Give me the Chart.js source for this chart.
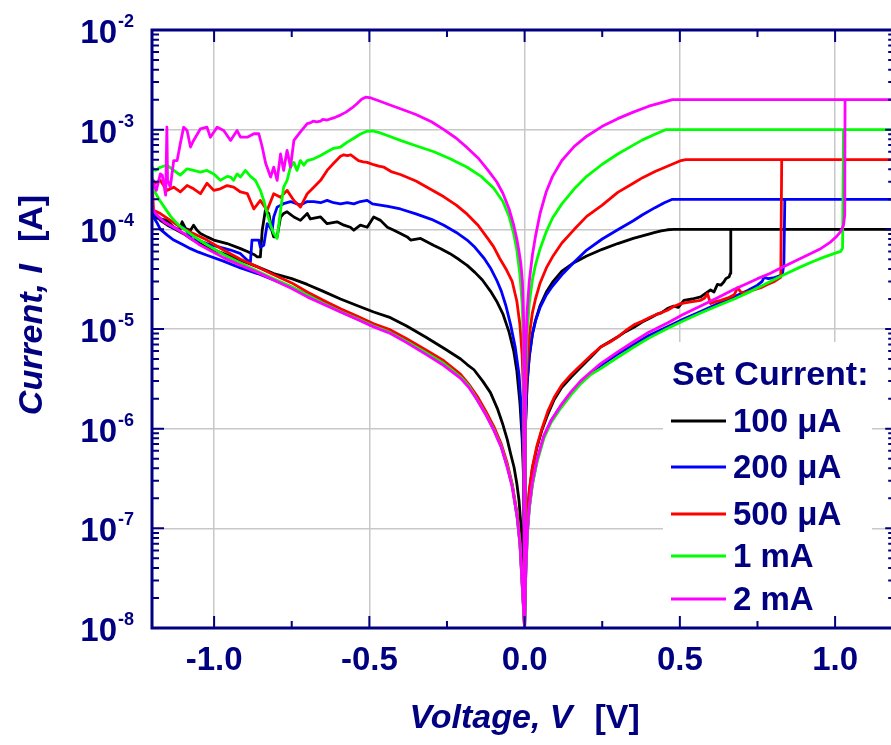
<!DOCTYPE html>
<html><head><meta charset="utf-8">
<script src="https://cdn.jsdelivr.net/npm/chart.js@4.4.1/dist/chart.umd.min.js"></script>
<style>html,body{margin:0;padding:0;background:#fff;overflow:hidden}canvas{display:block}</style>
</head><body>
<canvas id="c" width="891" height="745"></canvas>
<script>
// ---------- labels / ticks ----------
const seriesLabels = ['100 \u03BCA', '200 \u03BCA', '500 \u03BCA', '1 mA', '2 mA'];
const seriesColors = ['#000000', '#0000ff', '#ff0000', '#00ff00', '#ff00ff'];
const legendTitle = 'Set Current:';
const xTitleParts = ['Voltage, V', '[V]'];
const yTitleParts = ['Current, I', '[A]'];
const xMajorTicks = [-1.0, -0.5, 0.0, 0.5, 1.0];
const xMinorTicks = [-0.75, -0.25, 0.25, 0.75];
const xTickLabels = ['-1.0', '-0.5', '0.0', '0.5', '1.0'];
const yDecades = [1e-8, 1e-7, 1e-6, 1e-5, 1e-4, 1e-3, 1e-2];
const yExponents = ['-8', '-7', '-6', '-5', '-4', '-3', '-2'];

// ---------- series: [voltage V, current A], in sweep order ----------
const s100 = [
 [0,1e-8],[0.003,5e-8],[0.008,1.2e-7],[0.015,2.3e-7],[0.025,4e-7],[0.04,6.5e-7],[0.055,9.5e-7],[0.075,1.4e-6],[0.095,1.95e-6],[0.12,2.6e-6],[0.15,3.3e-6],[0.18,4.1e-6],[0.213,5.2e-6],[0.245,6.6e-6],[0.275,7.5e-6],[0.299,8.3e-6],[0.325,9.4e-6],[0.352,1.04e-5],[0.38,1.18e-5],[0.406,1.3e-5],[0.425,1.4e-5],[0.44,1.45e-5],[0.46,1.6e-5],[0.48,1.7e-5],[0.495,1.65e-5],[0.513,1.94e-5],[0.54,2.0e-5],[0.567,2.1e-5],[0.585,2.3e-5],[0.599,2.46e-5],[0.61,2.35e-5],[0.621,2.8e-5],[0.632,2.75e-5],[0.642,2.98e-5],[0.648,3.2e-5],[0.659,3.35e-5],[0.662,3.6e-5],[0.664,1e-4],[1.2,1e-4],
 [0.5,1e-4],[0.48,1e-4],[0.46,9.9e-5],[0.44,9.65e-5],[0.42,9.3e-5],[0.40,8.95e-5],[0.35,8.1e-5],[0.30,7.2e-5],[0.25,6.3e-5],[0.20,5.4e-5],[0.16,4.65e-5],[0.12,3.8e-5],[0.09,2.95e-5],[0.07,2.35e-5],[0.05,1.72e-5],[0.035,1.22e-5],[0.025,8.8e-6],[0.015,5.2e-6],[0.008,2.8e-6],[0.003,1.1e-6],[0,1e-8],
 [-0.003,3e-7],[-0.008,8e-7],[-0.015,1.8e-6],[-0.025,3.8e-6],[-0.035,6e-6],[-0.05,9.3e-6],[-0.07,1.42e-5],[-0.09,1.9e-5],[-0.11,2.4e-5],[-0.136,3.1e-5],[-0.16,3.7e-5],[-0.185,4.35e-5],[-0.21,4.95e-5],[-0.24,5.7e-5],[-0.27,6.4e-5],[-0.292,6.9e-5],
 [-0.335,8.1e-5],[-0.367,7.8e-5],[-0.378,8.4e-5],[-0.4,9.1e-5],[-0.421,9.8e-5],[-0.442,1.05e-4],[-0.464,1.23e-4],[-0.486,1.33e-4],[-0.507,1.05e-4],[-0.529,1.1e-4],[-0.55,9.8e-5],[-0.561,1.05e-4],[-0.582,1.1e-4],[-0.604,1.19e-4],[-0.636,1.14e-4],[-0.657,1.33e-4],[-0.69,1.27e-4],[-0.7,1.44e-4],[-0.722,1.23e-4],[-0.743,1.33e-4],[-0.765,1.5e-4],[-0.776,1.44e-4],[-0.786,1.33e-4],[-0.797,8.4e-5],[-0.808,8.4e-5],[-0.813,9.5e-5],[-0.824,1.44e-4],[-0.835,1.55e-4],[-0.845,9.8e-5],[-0.851,5.3e-5],[-0.861,5.3e-5],[-0.872,5.6e-5],[-0.893,6.0e-5],[-0.915,6.4e-5],[-0.958,7.2e-5],[-1.001,7.8e-5],[-1.023,8.4e-5],[-1.044,9.1e-5],[-1.055,9.8e-5],[-1.066,1.1e-4],[-1.076,9.8e-5],[-1.092,1.02e-4],[-1.103,1.19e-4],[-1.111,9.8e-5],[-1.13,1.05e-4],[-1.152,1.23e-4],[-1.173,1.27e-4],[-1.2,1.33e-4],
 [-1.2,1.5e-4],[-1.185,1.35e-4],[-1.173,1.23e-4],[-1.15,1.1e-4],[-1.13,1.02e-4],[-1.1,9.1e-5],[-1.076,8.1e-5],[-1.05,7.3e-5],[-1.023,6.6e-5],[-0.97,5.7e-5],[-0.915,4.9e-5],[-0.86,4.2e-5],[-0.808,3.6e-5],[-0.75,3.2e-5],[-0.7,2.8e-5],[-0.65,2.4e-5],[-0.593,2.0e-5],[-0.54,1.72e-5],[-0.486,1.48e-5],[-0.432,1.3e-5],[-0.38,1.07e-5],[-0.319,8.3e-6],[-0.26,6.4e-6],[-0.206,5.0e-6],[-0.185,4.4e-6],[-0.163,3.9e-6],[-0.135,3.0e-6],[-0.11,2.3e-6],[-0.088,1.6e-6],[-0.07,1.1e-6],[-0.056,7.8e-7],[-0.045,5.6e-7],[-0.034,4.1e-7],[-0.025,2.8e-7],[-0.018,1.9e-7],[-0.012,1.1e-7],[-0.007,6.1e-8],[-0.003,2.5e-8],[0,1e-8]
];

const s200 = [
 [0,1e-8],[0.003,3e-8],[0.0087,8.9e-8],[0.015,1.6e-7],[0.025,2.8e-7],[0.04,4.8e-7],[0.062,8.3e-7],[0.085,1.2e-6],[0.116,1.68e-6],[0.15,2.3e-6],[0.18,2.9e-6],[0.213,3.6e-6],[0.245,4.3e-6],[0.30,5.6e-6],[0.352,7e-6],[0.40,8.6e-6],[0.46,1.05e-5],[0.51,1.25e-5],[0.567,1.5e-5],[0.62,1.78e-5],[0.675,2.1e-5],[0.72,2.45e-5],[0.75,2.75e-5],[0.765,3.0e-5],[0.771,3.3e-5],[0.785,3.2e-5],[0.80,3.25e-5],[0.814,3.35e-5],[0.83,3.5e-5],[0.835,4.5e-5],[0.838,2e-4],[1.2,2e-4],
 [0.476,2e-4],[0.45,1.85e-4],[0.42,1.65e-4],[0.38,1.4e-4],[0.35,1.22e-4],[0.30,9.9e-5],[0.25,8.0e-5],[0.20,6.2e-5],[0.16,4.7e-5],[0.12,3.5e-5],[0.09,2.7e-5],[0.07,2.2e-5],[0.05,1.65e-5],[0.035,1.2e-5],[0.025,8.9e-6],[0.015,5.4e-6],[0.008,2.9e-6],[0.003,1.1e-6],[0,1e-8],
 [-0.003,4e-7],[-0.008,1.2e-6],[-0.018,3.5e-6],[-0.03,6.5e-6],[-0.045,1.1e-5],[-0.06,1.7e-5],[-0.075,2.4e-5],[-0.09,3.1e-5],[-0.11,4.1e-5],[-0.13,5.1e-5],[-0.16,6.6e-5],[-0.185,7.8e-5],[-0.22,9.3e-5],[-0.26,1.1e-4],[-0.30,1.26e-4],[-0.35,1.43e-4],[-0.40,1.6e-4],[-0.44,1.7e-4],[-0.47,1.76e-4],[-0.49,1.8e-4],[-0.507,1.95e-4],
 [-0.529,1.9e-4],[-0.55,1.8e-4],[-0.571,1.85e-4],[-0.593,1.8e-4],[-0.615,1.85e-4],[-0.636,1.95e-4],[-0.657,1.85e-4],[-0.679,1.9e-4],[-0.7,1.9e-4],[-0.722,1.75e-4],[-0.754,1.9e-4],[-0.776,1.81e-4],[-0.797,1.67e-4],[-0.808,1.33e-4],[-0.813,9.8e-5],[-0.829,1.14e-4],[-0.84,6.9e-5],[-0.851,6.6e-5],[-0.856,7.8e-5],[-0.878,7.8e-5],[-0.883,4.7e-5],[-0.893,4.9e-5],[-0.915,5.7e-5],[-0.947,6.2e-5],[-0.98,6.6e-5],[-1.023,7.2e-5],[-1.055,7.8e-5],[-1.066,8.7e-5],[-1.076,8.4e-5],[-1.098,1.05e-4],[-1.114,1.0e-4],[-1.13,1.02e-4],[-1.152,1.14e-4],[-1.173,1.27e-4],[-1.2,1.5e-4],
 [-1.2,1.4e-4],[-1.185,1.18e-4],[-1.173,1.0e-4],[-1.15,8.7e-5],[-1.13,7.8e-5],[-1.1,7.0e-5],[-1.076,6.4e-5],[-1.05,5.9e-5],[-1.023,5.5e-5],[-0.97,4.8e-5],[-0.915,4.1e-5],[-0.86,3.6e-5],[-0.808,3.1e-5],[-0.75,2.6e-5],[-0.7,2.2e-5],[-0.65,1.85e-5],[-0.593,1.5e-5],[-0.54,1.27e-5],[-0.486,1.08e-5],[-0.432,9.3e-6],[-0.38,7.6e-6],[-0.319,5.9e-6],[-0.26,4.5e-6],[-0.206,3.3e-6],[-0.18,2.7e-6],[-0.152,1.95e-6],[-0.125,1.4e-6],[-0.099,9.8e-7],[-0.075,6.6e-7],[-0.056,4.2e-7],[-0.04,2.7e-7],[-0.024,1.3e-7],[-0.015,7e-8],[-0.008,2.8e-8],[0,1e-8]
];

const s500 = [
 [0,1e-8],[0.003,5e-8],[0.008,1.25e-7],[0.015,2.4e-7],[0.025,4.1e-7],[0.04,6.8e-7],[0.055,9.8e-7],[0.075,1.5e-6],[0.095,2.05e-6],[0.12,2.75e-6],[0.15,3.5e-6],[0.18,4.3e-6],[0.213,5.4e-6],[0.245,6.6e-6],[0.275,7.4e-6],[0.299,8.3e-6],[0.325,9.6e-6],[0.352,1.1e-5],[0.38,1.2e-5],[0.406,1.32e-5],[0.43,1.42e-5],[0.46,1.54e-5],[0.48,1.68e-5],[0.503,1.8e-5],[0.535,1.87e-5],[0.567,1.94e-5],[0.58,2.05e-5],[0.589,2.26e-5],[0.599,1.8e-5],[0.615,1.88e-5],[0.632,1.94e-5],[0.655,2.05e-5],[0.675,2.2e-5],[0.686,2.6e-5],[0.696,2.35e-5],[0.707,2.3e-5],[0.735,2.45e-5],[0.761,2.6e-5],[0.782,2.8e-5],[0.805,3.0e-5],[0.825,3.3e-5],[0.828,5e-4],[1.2,5e-4],
 [0.519,5e-4],[0.50,4.85e-4],[0.46,4.3e-4],[0.42,3.8e-4],[0.38,3.3e-4],[0.35,2.9e-4],[0.30,2.35e-4],[0.25,1.75e-4],[0.20,1.35e-4],[0.16,1.0e-4],[0.12,7.3e-5],[0.09,5.3e-5],[0.07,4.1e-5],[0.05,2.9e-5],[0.035,2.0e-5],[0.025,1.45e-5],[0.015,8.5e-6],[0.008,4.5e-6],[0.003,1.7e-6],[0,1e-8],
 [-0.003,2e-6],[-0.008,5.5e-6],[-0.015,1.1e-5],[-0.025,1.9e-5],[-0.04,3.0e-5],[-0.06,4.0e-5],[-0.08,5.1e-5],[-0.10,6.7e-5],[-0.12,8.2e-5],[-0.15,1.1e-4],[-0.185,1.42e-4],[-0.22,1.75e-4],[-0.26,2.12e-4],[-0.30,2.5e-4],[-0.35,3.05e-4],[-0.40,3.55e-4],[-0.43,3.8e-4],[-0.453,4.2e-4],[-0.47,4.3e-4],[-0.486,4.45e-4],[-0.507,4.7e-4],[-0.52,4.75e-4],[-0.535,4.9e-4],[-0.55,5.3e-4],[-0.56,5.6e-4],[-0.571,5.5e-4],[-0.582,5.6e-4],[-0.593,5.4e-4],[-0.604,5.0e-4],[-0.615,4.6e-4],[-0.636,3.9e-4],
 [-0.657,3.1e-4],[-0.679,2.65e-4],[-0.7,2.28e-4],[-0.722,1.67e-4],[-0.743,1.95e-4],[-0.765,2.46e-4],[-0.786,2.1e-4],[-0.808,2.28e-4],[-0.829,1.55e-4],[-0.851,1.95e-4],[-0.872,1.6e-4],[-0.893,2.28e-4],[-0.915,2.37e-4],[-0.937,2.65e-4],[-0.958,2.75e-4],[-0.98,2.55e-4],[-1.001,2.46e-4],[-1.023,2.9e-4],[-1.044,2.28e-4],[-1.066,2.55e-4],[-1.087,2.75e-4],[-1.109,2.37e-4],[-1.13,2.65e-4],[-1.152,2.46e-4],[-1.173,3.1e-4],[-1.189,2.9e-4],[-1.2,3.2e-4],
 [-1.195,1.55e-4],[-1.173,1.44e-4],[-1.141,1.23e-4],[-1.109,1.05e-4],[-1.07,9.2e-5],[-1.023,7.8e-5],[-0.97,6.2e-5],[-0.915,5.0e-5],[-0.86,4.2e-5],[-0.808,3.5e-5],[-0.75,2.9e-5],[-0.7,2.35e-5],[-0.65,1.95e-5],[-0.593,1.6e-5],[-0.54,1.35e-5],[-0.486,1.13e-5],[-0.432,9.8e-6],[-0.38,8e-6],[-0.319,6.2e-6],[-0.26,4.8e-6],[-0.206,3.5e-6],[-0.18,2.8e-6],[-0.152,2.1e-6],[-0.125,1.5e-6],[-0.099,1.05e-6],[-0.075,7e-7],[-0.056,4.5e-7],[-0.04,2.8e-7],[-0.024,1.4e-7],[-0.015,7.5e-8],[-0.008,3e-8],[0,1e-8]
];

const s1m = [
 [0,1e-8],[0.003,3e-8],[0.0087,8.5e-8],[0.015,1.55e-7],[0.025,2.7e-7],[0.04,4.6e-7],[0.062,8.0e-7],[0.085,1.15e-6],[0.116,1.6e-6],[0.15,2.2e-6],[0.18,2.8e-6],[0.213,3.5e-6],[0.245,4.0e-6],[0.30,5.2e-6],[0.352,6.6e-6],[0.40,8.1e-6],[0.46,1.01e-5],[0.51,1.2e-5],[0.567,1.45e-5],[0.62,1.7e-5],[0.675,2.0e-5],[0.73,2.4e-5],[0.782,2.9e-5],[0.835,3.5e-5],[0.889,4.2e-5],[0.925,4.7e-5],[0.96,5.2e-5],[0.996,5.7e-5],[1.018,6.0e-5],[1.024,6.5e-5],[1.027,1e-3],[1.2,1e-3],
 [0.454,1e-3],[0.42,9.0e-4],[0.38,7.9e-4],[0.35,7.0e-4],[0.30,5.7e-4],[0.25,4.5e-4],[0.20,3.4e-4],[0.16,2.55e-4],[0.12,1.8e-4],[0.09,1.3e-4],[0.07,9.5e-5],[0.05,6.4e-5],[0.035,4.4e-5],[0.025,3.1e-5],[0.015,1.8e-5],[0.008,9e-6],[0.003,3e-6],[0,1e-8],
 [-0.003,6e-6],[-0.008,1.8e-5],[-0.015,3.5e-5],[-0.025,6.2e-5],[-0.035,9e-5],[-0.05,1.35e-4],[-0.07,1.9e-4],[-0.10,2.6e-4],[-0.14,3.4e-4],[-0.185,4.2e-4],[-0.24,5.1e-4],[-0.292,6.0e-4],[-0.35,6.9e-4],[-0.40,7.8e-4],[-0.44,8.7e-4],[-0.47,9.4e-4],[-0.49,9.7e-4],[-0.51,9.6e-4],[-0.53,9.0e-4],[-0.55,8.2e-4],[-0.571,7.5e-4],[-0.593,6.7e-4],
 [-0.615,6.5e-4],[-0.636,6.0e-4],[-0.657,5.5e-4],[-0.679,5.1e-4],[-0.7,4.9e-4],[-0.711,4.4e-4],[-0.722,4.9e-4],[-0.733,3.9e-4],[-0.743,4.7e-4],[-0.754,4.2e-4],[-0.765,3.1e-4],[-0.776,2.65e-4],[-0.786,1.55e-4],[-0.797,8.1e-5],[-0.808,9.1e-5],[-0.818,1.1e-4],[-0.829,1.44e-4],[-0.84,1.95e-4],[-0.851,2.46e-4],[-0.867,3.1e-4],[-0.883,3.4e-4],[-0.899,3.9e-4],[-0.915,3.35e-4],[-0.926,3.6e-4],[-0.937,3.1e-4],[-0.947,3.35e-4],[-0.958,3.4e-4],[-0.98,3.1e-4],[-1.001,3.6e-4],[-1.023,3.9e-4],[-1.044,3.75e-4],[-1.066,3.9e-4],[-1.087,4.05e-4],[-1.109,3.5e-4],[-1.13,3.9e-4],[-1.152,4.4e-4],[-1.173,4.2e-4],[-1.189,3.9e-4],[-1.2,4.2e-4],
 [-1.2,2.65e-4],[-1.19,2.35e-4],[-1.175,1.95e-4],[-1.162,1.7e-4],[-1.14,1.35e-4],[-1.119,1.14e-4],[-1.1,1.02e-4],[-1.076,9e-5],[-1.05,7.9e-5],[-1.023,7e-5],[-0.97,5.6e-5],[-0.915,4.6e-5],[-0.86,3.8e-5],[-0.808,3.2e-5],[-0.75,2.65e-5],[-0.7,2.2e-5],[-0.65,1.82e-5],[-0.593,1.5e-5],[-0.54,1.27e-5],[-0.486,1.07e-5],[-0.432,9.2e-6],[-0.38,7.5e-6],[-0.319,5.8e-6],[-0.26,4.5e-6],[-0.206,3.3e-6],[-0.18,2.7e-6],[-0.152,1.95e-6],[-0.125,1.4e-6],[-0.099,9.8e-7],[-0.075,6.6e-7],[-0.056,4.2e-7],[-0.04,2.7e-7],[-0.024,1.3e-7],[-0.015,7e-8],[-0.008,2.8e-8],[0,1e-8]
];

const s2m = [
 [0,1e-8],[0.003,3e-8],[0.0087,9e-8],[0.015,1.65e-7],[0.025,2.9e-7],[0.04,4.9e-7],[0.062,8.5e-7],[0.085,1.2e-6],[0.116,1.7e-6],[0.15,2.35e-6],[0.18,3.0e-6],[0.213,3.7e-6],[0.245,4.5e-6],[0.30,5.9e-6],[0.352,7.5e-6],[0.40,9.3e-6],[0.46,1.15e-5],[0.51,1.4e-5],[0.567,1.7e-5],[0.62,2.05e-5],[0.675,2.5e-5],[0.715,2.85e-5],[0.75,3.2e-5],[0.79,3.6e-5],[0.825,4.1e-5],[0.865,4.7e-5],[0.9,5.3e-5],[0.95,6.3e-5],[0.986,7.5e-5],[1.005,8.5e-5],[1.018,9.5e-5],[1.027,1.1e-4],[1.031,1.4e-4],[1.032,2e-3],[1.2,2e-3],
 [0.476,2.0e-3],[0.45,1.9e-3],[0.40,1.72e-3],[0.35,1.5e-3],[0.30,1.29e-3],[0.25,1.08e-3],[0.20,8.6e-4],[0.16,6.8e-4],[0.12,4.9e-4],[0.09,3.4e-4],[0.07,2.4e-4],[0.05,1.45e-4],[0.035,8.5e-5],[0.025,5.5e-5],[0.015,3.0e-5],[0.008,1.5e-5],[0.003,5e-6],[0,1e-8],
 [-0.003,1.2e-5],[-0.007,3e-5],[-0.012,4.5e-5],[-0.018,6e-5],[-0.025,8e-5],[-0.035,1.1e-4],[-0.05,1.6e-4],[-0.07,2.3e-4],[-0.09,3.0e-4],[-0.12,4.0e-4],[-0.15,5.2e-4],[-0.185,6.6e-4],[-0.22,8.2e-4],[-0.26,1.0e-3],[-0.30,1.2e-3],[-0.35,1.42e-3],[-0.40,1.62e-3],[-0.44,1.8e-3],[-0.47,1.95e-3],[-0.495,2.08e-3],[-0.512,2.12e-3],[-0.525,2.02e-3],[-0.54,1.82e-3],[-0.555,1.66e-3],[-0.575,1.5e-3],[-0.593,1.4e-3],[-0.61,1.33e-3],[-0.62,1.3e-3],[-0.636,1.25e-3],[-0.65,1.27e-3],[-0.657,1.22e-3],[-0.67,1.2e-3],[-0.68,1.22e-3],[-0.69,1.17e-3],[-0.7,1.15e-3],[-0.722,9.5e-4],
 [-0.743,7.8e-4],[-0.754,4.2e-4],[-0.765,6.2e-4],[-0.776,3.9e-4],[-0.786,5.7e-4],[-0.797,3.1e-4],[-0.808,4.2e-4],[-0.818,3.35e-4],[-0.834,4.6e-4],[-0.845,6.7e-4],[-0.856,9.1e-4],[-0.872,9.1e-4],[-0.893,8.4e-4],[-0.915,8.4e-4],[-0.926,9.8e-4],[-0.947,7.8e-4],[-0.969,9.8e-4],[-0.99,1.06e-3],[-1.012,8.4e-4],[-1.023,1.06e-3],[-1.044,1.02e-3],[-1.066,7.8e-4],[-1.076,6.7e-4],[-1.087,9.8e-4],[-1.098,1.06e-3],[-1.109,7.2e-4],[-1.119,4.9e-4],[-1.13,4.9e-4],[-1.141,2.65e-4],[-1.15,3.1e-4],[-1.152,1.06e-3],[-1.156,2.2e-4],[-1.167,3.5e-4],[-1.173,3.6e-4],[-1.186,2.46e-4],[-1.2,3.1e-4],
 [-1.2,1.62e-4],[-1.185,1.4e-4],[-1.16,1.18e-4],[-1.13,1.05e-4],[-1.1,9.2e-5],[-1.076,8.1e-5],[-1.05,7.1e-5],[-1.023,6.4e-5],[-0.97,5.2e-5],[-0.915,4.36e-5],[-0.86,3.7e-5],[-0.808,3.1e-5],[-0.75,2.55e-5],[-0.7,2.1e-5],[-0.65,1.78e-5],[-0.593,1.48e-5],[-0.54,1.25e-5],[-0.486,1.05e-5],[-0.432,9e-6],[-0.38,7.3e-6],[-0.319,5.6e-6],[-0.26,4.3e-6],[-0.206,3.2e-6],[-0.18,2.6e-6],[-0.152,1.93e-6],[-0.125,1.38e-6],[-0.099,9.6e-7],[-0.075,6.5e-7],[-0.056,4.1e-7],[-0.04,2.6e-7],[-0.024,1.3e-7],[-0.015,7e-8],[-0.008,2.8e-8],[0,1e-8]
];

const seriesData = [s100, s200, s500, s1m, s2m];

// ---------- chart ----------
const NAVY = '#000080';
const FONT = '"Liberation Sans", Arial, sans-serif';

const datasets = seriesLabels.map((lab, k) => ({
  label: lab,
  data: seriesData[k].map(p => ({ x: p[0], y: p[1] })),
  borderColor: seriesColors[k],
  backgroundColor: seriesColors[k],
  showLine: true,
  borderWidth: 2.8,
  pointRadius: 0,
  tension: 0,
  borderJoinStyle: 'round',
  borderCapStyle: 'round',
  order: 4 - k
}));

const overlay = {
  id: 'overlay',
  afterDatasetsDraw(chart) {
    const { ctx, chartArea: ca } = chart;
    ctx.save();
    ctx.fillStyle = '#ffffff';
    ctx.fillRect(663, 342, 209, ca.bottom - 343);
    ctx.fillStyle = NAVY;
    ctx.textAlign = 'left';
    ctx.textBaseline = 'alphabetic';
    ctx.font = 'bold 34px ' + FONT;
    ctx.fillText(legendTitle, 672, 385);
    const baselines = [432, 478, 525, 567, 610];
    ctx.font = 'bold 33px ' + FONT;
    chart.data.datasets.forEach((ds, k) => {
      const by = baselines[k];
      ctx.strokeStyle = ds.borderColor;
      ctx.lineWidth = 3;
      ctx.beginPath();
      ctx.moveTo(671, by - 11);
      ctx.lineTo(726, by - 11);
      ctx.stroke();
      ctx.fillStyle = NAVY;
      ctx.fillText(ds.label, 733, by);
    });
    ctx.restore();
  },
  afterDraw(chart) {
    const { ctx, chartArea: ca, scales: { x, y } } = chart;
    ctx.save();
    const xr = x.getPixelForValue(1.2);
    ctx.strokeStyle = NAVY;
    ctx.lineWidth = 3;
    ctx.beginPath();
    ctx.moveTo(ca.left, ca.top); ctx.lineTo(xr, ca.top);
    ctx.moveTo(ca.left, ca.top - 1.5); ctx.lineTo(ca.left, ca.bottom + 1.5);
    ctx.moveTo(ca.left, ca.bottom); ctx.lineTo(xr, ca.bottom);
    ctx.moveTo(xr, ca.top); ctx.lineTo(xr, ca.bottom);
    ctx.stroke();
    ctx.lineWidth = 2;
    ctx.beginPath();
    yDecades.forEach(d => {
      const py = y.getPixelForValue(d);
      ctx.moveTo(ca.left, py); ctx.lineTo(ca.left + 12, py);
      ctx.moveTo(xr, py); ctx.lineTo(xr - 12, py);
      if (d < 1e-2) {
        for (let m = 2; m <= 9; m++) {
          const pm = y.getPixelForValue(d * m);
          ctx.moveTo(ca.left, pm); ctx.lineTo(ca.left + 7, pm);
          ctx.moveTo(xr, pm); ctx.lineTo(xr - 9, pm);
        }
      }
    });
    xMajorTicks.forEach(v => {
      const px = x.getPixelForValue(v);
      ctx.moveTo(px, ca.bottom); ctx.lineTo(px, ca.bottom - 12);
      ctx.moveTo(px, ca.top); ctx.lineTo(px, ca.top + 12);
    });
    xMinorTicks.forEach(v => {
      const px = x.getPixelForValue(v);
      ctx.moveTo(px, ca.bottom); ctx.lineTo(px, ca.bottom - 7);
      ctx.moveTo(px, ca.top); ctx.lineTo(px, ca.top + 7);
    });
    ctx.stroke();

    ctx.fillStyle = NAVY;
    ctx.textBaseline = 'alphabetic';
    ctx.font = 'bold 33px ' + FONT;
    ctx.textAlign = 'center';
    xMajorTicks.forEach((v, k) => {
      ctx.fillText(xTickLabels[k], x.getPixelForValue(v), ca.bottom + 42);
    });
    yDecades.forEach((d, k) => {
      const py = y.getPixelForValue(d);
      ctx.font = 'bold 18px ' + FONT;
      ctx.textAlign = 'left';
      ctx.fillText(yExponents[k], 118, py - 3);
      ctx.font = 'bold 33px ' + FONT;
      ctx.textAlign = 'right';
      ctx.fillText('10', 117, py + 13);
    });

    ctx.textAlign = 'left';
    const gap = 22;
    ctx.font = 'italic bold 34px ' + FONT;
    const w1 = ctx.measureText(xTitleParts[0]).width;
    ctx.font = 'bold 34px ' + FONT;
    const w2 = ctx.measureText(xTitleParts[1]).width;
    const cx = x.getPixelForValue(0);
    const sx = cx - (w1 + gap + w2) / 2;
    ctx.font = 'italic bold 34px ' + FONT;
    ctx.fillText(xTitleParts[0], sx, 728);
    ctx.font = 'bold 34px ' + FONT;
    ctx.fillText(xTitleParts[1], sx + w1 + gap, 728);

    ctx.save();
    ctx.translate(42, 305);
    ctx.rotate(-Math.PI / 2);
    ctx.font = 'italic bold 34px ' + FONT;
    const u1 = ctx.measureText(yTitleParts[0]).width;
    ctx.font = 'bold 34px ' + FONT;
    const u2 = ctx.measureText(yTitleParts[1]).width;
    const sy = -(u1 + gap + u2) / 2;
    ctx.font = 'italic bold 34px ' + FONT;
    ctx.fillText(yTitleParts[0], sy, 0);
    ctx.font = 'bold 34px ' + FONT;
    ctx.fillText(yTitleParts[1], sy + u1 + gap, 0);
    ctx.restore();

    ctx.restore();
  }
};

new Chart(document.getElementById('c').getContext('2d'), {
  type: 'scatter',
  data: { datasets },
  options: {
    responsive: false,
    animation: false,
    devicePixelRatio: 1,
    layout: { padding: { top: 30, left: 0, right: 0, bottom: 0 } },
    plugins: { legend: { display: false }, tooltip: { enabled: false } },
    scales: {
      x: {
        type: 'linear', min: -1.2, max: 1.18,
        grid: { color: '#c8c8c8', lineWidth: 1.5, drawTicks: false },
        border: { display: false },
        ticks: { display: false },
        afterBuildTicks: s => { s.ticks = xMajorTicks.map(v => ({ value: v })); },
        afterFit: s => { s.height = 117; }
      },
      y: {
        type: 'logarithmic', min: 1e-8, max: 1e-2,
        grid: { color: '#c8c8c8', lineWidth: 1.5, drawTicks: false },
        border: { display: false },
        ticks: { display: false },
        afterBuildTicks: s => { s.ticks = yDecades.map(v => ({ value: v })); },
        afterFit: s => { s.width = 152; }
      }
    }
  },
  plugins: [overlay]
});
</script>
</body></html>
